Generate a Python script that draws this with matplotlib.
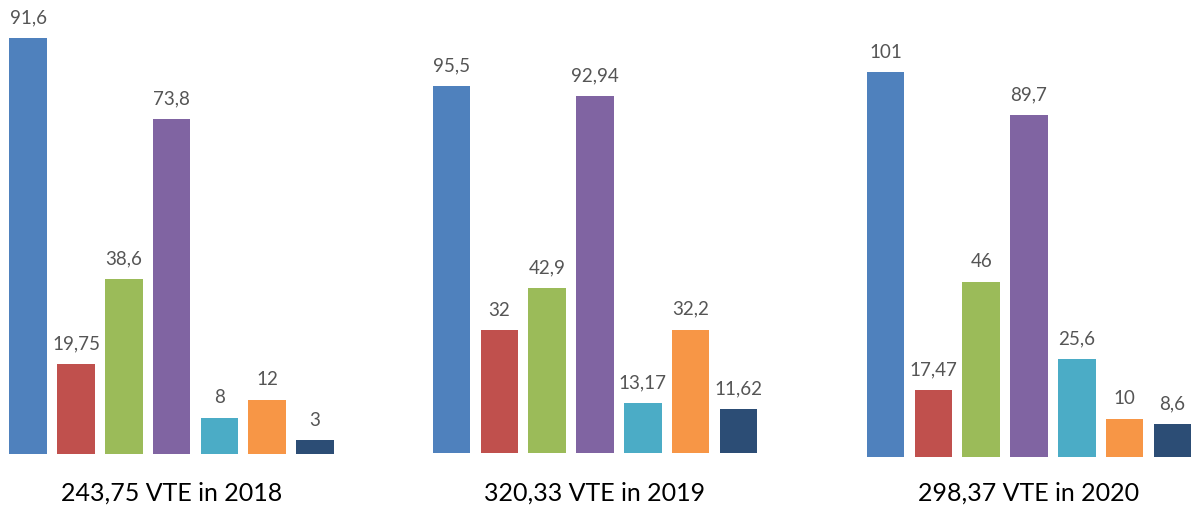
import matplotlib
matplotlib.use("Agg")
import matplotlib.pyplot as plt

plt.rcParams['font.family'] = ['Lato', 'DejaVu Sans']

# data
colors = ['#4F81BD', '#C0504D', '#9BBB59', '#8064A2', '#4BACC6', '#F79646', '#2C4D75']
values_2018 = [91.6, 19.75, 38.6, 73.8, 8, 12, 3]
values_2019 = [95.5, 32, 42.9, 92.94, 13.17, 32.2, 11.62]
values_2020 = [101, 17.47, 46, 89.7, 25.6, 10, 8.6]
titles = ['243,75 VTE in 2018', '320,33 VTE in 2019', '298,37 VTE in 2020']

groups = [values_2018, values_2019, values_2020]

W, H = 1197, 506
fig = plt.figure(figsize=(W / 100, H / 100), dpi=100)

# pixel layout: left edge, baseline (from top), y-limit
lefts = [9.3, 432.7, 866.7]
bases = [455, 454.3, 457.7]
ytops = [100.2, 118.2, 120.3]
ax_w = 324.6


def fmt(v):
    return ('%g' % v).replace('.', ',')


for vals, title, left, base, ytop in zip(groups, titles, lefts, bases, ytops):
    ax = fig.add_axes([left / W, (H - base) / H, ax_w / W, base / H])
    x = range(len(vals))
    ax.bar(x, vals, width=0.79, color=colors, linewidth=0)
    for xi, v in zip(x, vals):
        ax.annotate(fmt(v), (xi, v), xytext=(0, 11.3), textcoords='offset points',
                    ha='center', va='baseline', fontsize=13.5, color='#555555')
    ax.set_xlim(-0.395, len(vals) - 1 + 0.395)
    ax.set_ylim(0, ytop)
    ax.axis('off')
    fig.text((left + ax_w / 2) / W, 5.5 / H, title, ha='center', va='baseline',
             fontsize=18, color='#000000')

fig.savefig('out.png', dpi=100)
